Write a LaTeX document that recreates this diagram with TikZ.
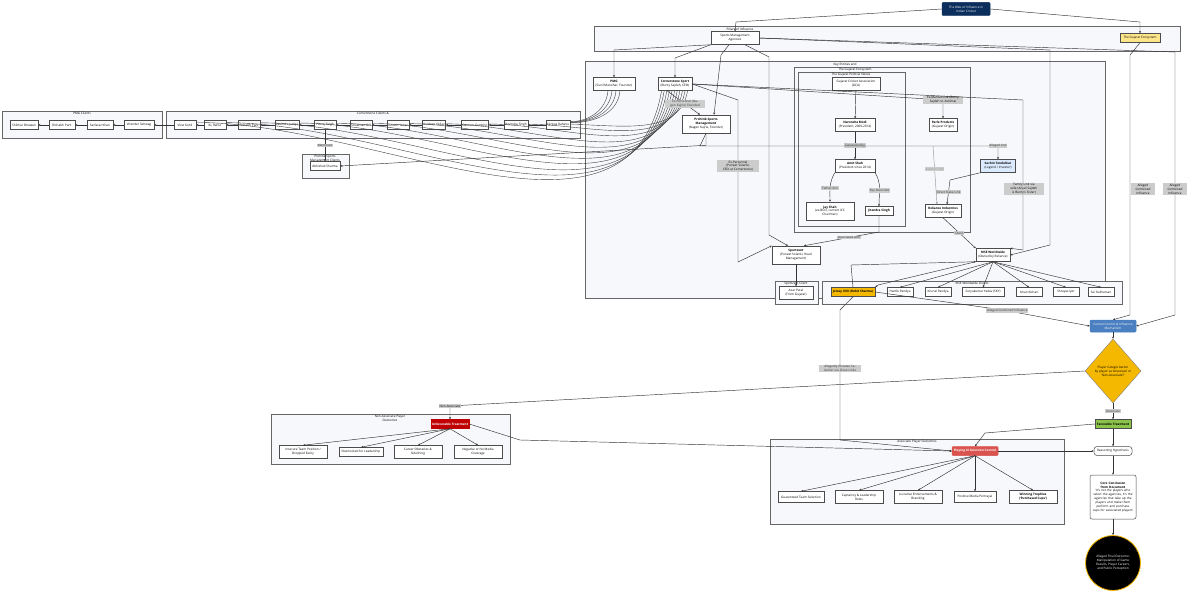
\documentclass[tikz,border=0pt]{standalone}
\usepackage{fontspec}
\setmainfont{Open Sans}
\usetikzlibrary{shapes.geometric,arrows.meta,positioning}
\definecolor{navy}{HTML}{0B2E5C}
\definecolor{gold}{HTML}{F5B800}
\definecolor{lyel}{HTML}{FDE68A}
\definecolor{lblue}{HTML}{DBEAFE}
\definecolor{mblue}{HTML}{4A7FC1}
\definecolor{dred}{HTML}{C00000}
\definecolor{mred}{HTML}{D9534F}
\definecolor{lgreen}{HTML}{8BC34A}
\definecolor{cont}{HTML}{F7F8FB}
\begin{document}
\begin{tikzpicture}[x=1pt,y=-1pt,
  every node/.style={font=\fontsize{3.1}{3.9}\selectfont,inner sep=1pt},
  box/.style={draw=black!70,fill=white,line width=0.5pt,align=center,minimum height=9pt},
  ctr/.style={draw=black!60,fill=cont,line width=0.5pt},
  ttl/.style={font=\fontsize{3.1}{3.7}\selectfont,anchor=north},
  lbl/.style={fill=black!20,align=center,inner sep=0.8pt},
  arr/.style={-{Stealth[length=2.2pt,width=2pt]},black!80,line width=0.45pt}]
\useasboundingbox (0,0) rectangle (1200,594);
% containers
\draw[ctr] (594,26) rectangle (1180,51); \node[ttl] at (740,26.5) {Pillars of Influence};
\draw[ctr] (585,61) rectangle (1105,298); \node[ttl] at (845,61.5) {Key Entities and};
\draw[ctr] (794,67) rectangle (970,232); \node[ttl] at (855,67) {The Gujarat Ecosystem};
\draw[ctr] (798,72) rectangle (905,226); \node[ttl] at (851,72) {The Gujarat Political Nexus};
\draw[ctr] (2,111) rectangle (162,138); \node[ttl] at (82,111) {PMG Clients};
\draw[ctr] (166,111) rectangle (580,138); \node[ttl] at (373,111) {Cornerstone Clients \&};
\draw[ctr] (302,154) rectangle (349,178); \node[ttl,align=center] at (325,154) {Prohitik Sports\\Management Clients};
\draw[ctr] (775,281) rectangle (818,304); \node[ttl] at (796,281) {Sportzent Client};
\draw[ctr] (822,281) rectangle (1122,304); \node[ttl] at (972,281) {RISE Worldwide Clients};
\draw[ctr] (271,414) rectangle (510,464); \node[ttl,align=center] at (390,414) {Non-Associate Player\\Outcomes};
\draw[ctr] (770,439) rectangle (1064,524); \node[ttl] at (917,439) {Associate Player Outcomes};
% nodes
\node[box,fill=navy,draw=navy,text=white,rounded corners=1pt,minimum width=48pt,minimum height=13pt] (top) at (966,9) {The Web of Influence in\\Indian Cricket};
\node[box,minimum width=48pt,minimum height=13pt] (sma) at (735,38) {Sports Management\\Agencies};
\node[box,fill=lyel,minimum width=40pt] (geco) at (1140,38) {The Gujarat Ecosystem};
\node[box,minimum width=48pt,minimum height=13pt] (gca) at (856,84) {Gujarat Cricket Association\\(GCA)};
\node[box,minimum width=40pt,minimum height=13pt] (modi) at (855,125) {\textbf{Narendra Modi}\\(President, 2009-2014)};
\node[box,minimum width=40pt,minimum height=13pt] (amit) at (855,166) {\textbf{Amit Shah}\\(President since 2014)};
\node[box,minimum width=48pt,minimum height=18pt] (jay) at (830,211) {\textbf{Jay Shah}\\(ex-BCCI, current ICC\\Chairman)};
\node[box,minimum width=28pt] (jit) at (879,211) {\textbf{Jitendra Singh}};
\node[box,minimum width=28pt,minimum height=13pt] (parle) at (943,125) {\textbf{Parle Products}\\(Gujarat Origin)};
\node[box,fill=lblue,minimum width=35pt,minimum height=13pt] (sachin) at (998,166) {\textbf{Sachin Tendulkar}\\(Legend / Investor)};
\node[box,minimum width=36pt,minimum height=13pt] (rel) at (943,211) {\textbf{Reliance Industries}\\(Gujarat Origin)};
\node[box,minimum width=42pt,minimum height=13pt] (pmg) at (614,84) {\textbf{PMG}\\(Sunil Manohar, Founder)};
\node[box,minimum width=34pt,minimum height=13pt] (cs) at (675,84) {\textbf{Cornerstone Sport}\\(Bunty Sajdeh, CEO)};
\node[box,minimum width=48pt,minimum height=18pt] (pro) at (706,124) {\textbf{Prohitik Sports}\\\textbf{Management}\\(Nagen Kajrie, Founder)};
\node[box,minimum width=48pt,minimum height=18pt] (spz) at (796,255) {\textbf{Sportzent}\\(Puneet Solanki, Head\\Management)};
\node[box,minimum width=34pt,minimum height=13pt] (rise) at (993,255) {\textbf{RISE Worldwide}\\(Owned by Reliance)};
% PMG clients
\node[box,minimum width=28pt] (p1) at (24,125) {Shikhar Dhawan};
\node[box,minimum width=26pt] (p2) at (62,125) {Rishabh Pant};
\node[box,minimum width=26pt] (p3) at (100,125) {Sarfaraz Khan};
\node[box,minimum width=30pt] (p4) at (139,125) {Virender Sehwag};
\draw[arr] (p2) -- (p1); \draw[arr] (p3) -- (p2); \draw[arr] (p4) -- (p3);
% Cornerstone clients
\foreach \n/\x/\t in {c1/185/Virat Kohli,c2/215/KL Rahul,c3/249/Rishabh Pant,c4/287/Ravindra Jadeja,c5/325/Yuvraj Singh,c6/361/Shubman Gill,c7/398/Umesh Yadav,c8/434/Kuldeep Yadav,c9/475/Gautam Gambhir,c10/516/Ravindra Singh,c11/558/Ajinkya Rahane}
  {\node[box,minimum width=22pt] (\n) at (\x,125) {\t};}
\foreach \a/\b in {c2/c1,c3/c2,c4/c3,c5/c4,c6/c5,c7/c6,c8/c7,c9/c8,c10/c9,c11/c10,c1/p4} {\draw[arr] (\a) -- (\b);}
\foreach \n/\k in {c1/1,c2/2,c3/3,c4/4,c5/5,c6/6,c7/7,c8/8,c9/9,c10/10,c11/11}
  {\draw[black!75,line width=0.4pt] ([xshift={-16+2.6*\k}]cs.south) to[out=-100,in=0] ([yshift={-2-0.2*\k}]\n.north east);}
\foreach \k in {1,2,3,4} {\draw[black!75,line width=0.4pt] ([xshift={-10+4*\k}]pmg.south) to[out=-95,in=0] ([yshift={-1-0.4*\k}]c11.north east);}
\node[box,minimum width=30pt] (abh) at (325,166) {Abhishek Sharma};
\draw[arr] (c5) -- node[lbl]{Mentored} (abh);
\draw[arr] (pro.south) |- ([yshift=-12]pro.south) -- (abh.east);
% RISE clients
\node[box,fill=gold,minimum width=44pt] (jb) at (853,292) {\textbf{Jersey XVII (Rohit Sharma)}};
\node[box,minimum width=26pt] (r1) at (900,292) {Hardik Pandya};
\node[box,minimum width=26pt] (r2) at (938,292) {Krunal Pandya};
\node[box,minimum width=42pt] (r3) at (983,292) {Suryakumar Yadav (SKY)};
\node[box,minimum width=26pt] (r4) at (1029,292) {Ishan Kishan};
\node[box,minimum width=26pt] (r5) at (1066,292) {Shreyas Iyer};
\node[box,minimum width=26pt] (r6) at (1101,292) {Sai Sudharsan};
\node[box,minimum width=34pt,minimum height=13pt] (axar) at (796,293) {Axar Patel\\(From Gujarat)};
% flow right
\node[box,fill=mblue,draw=mblue,text=white,rounded corners=1pt,minimum width=46pt,minimum height=12pt] (cen) at (1113,326) {Central Control \& Influence\\Mechanism};
\node[diamond,draw=black!50,fill=gold,minimum width=56pt,minimum height=64pt,align=center,inner sep=0pt] (dia) at (1113,371) {Player Categorization\\by player as `Associate' or\\`Non-Associate'?};
\node[box,fill=lgreen,minimum width=36pt] (fav) at (1113,424) {\textbf{Favorable Treatment}};
\node[box,rounded corners=3pt,minimum width=38pt] (rea) at (1113,451) {Reasoning Hypothesis};
\node[box,rounded corners=2pt,text width=44pt,minimum height=44pt] (core) at (1113,497) {\textbf{Core Conclusion from Document}\\`It's not the players who select the agencies, it's the agencies that take up the players and make them perform and purchase cups for associated players'};
\node[circle,draw=gold,line width=0.8pt,fill=black,text=white,minimum size=55pt,align=center,inner sep=0pt] (fin) at (1113,563) {Alleged Final Outcome:\\Manipulation of Game\\Results, Player Careers,\\and Public Perception};
\node[box,fill=dred,draw=dred,text=white,minimum width=38pt] (unf) at (450,424) {\textbf{Unfavorable Treatment}};
\node[box,minimum width=48pt,minimum height=13pt] (n1) at (303,452) {Insecure Team Position /\\Dropped Easily};
\node[box,minimum width=44pt] (n2) at (361,452) {Overlooked for Leadership};
\node[box,minimum width=48pt,minimum height=13pt] (n3) at (418,452) {Career Obstacles \&\\Sidelining};
\node[box,minimum width=48pt,minimum height=13pt] (n4) at (478,452) {Negative or No Media\\Coverage};
\node[box,fill=mred,draw=mred,text=white,rounded corners=1pt,minimum width=46pt] (pl) at (975,451) {\textbf{Playing XI Selection Control}};
\node[box,minimum width=46pt,minimum height=11pt] (a1) at (801,497) {Guaranteed Team Selection};
\node[box,minimum width=48pt,minimum height=13pt] (a2) at (859,497) {Captaincy \& Leadership\\Roles};
\node[box,minimum width=48pt,minimum height=13pt] (a3) at (918,497) {Lucrative Endorsements \&\\Branding};
\node[box,minimum width=42pt,minimum height=11pt] (a4) at (975,497) {Positive Media Portrayal};
\node[box,minimum width=48pt,minimum height=13pt] (a5) at (1033,497) {\textbf{Winning Trophies}\\\textbf{(`Purchased Cups')}};
% connectors
\draw[arr] (top.west) -- (736,22) -- (sma.north);
\draw[arr] (top.east) -- (1140,22) -- (geco.north);
\draw[arr] (sma.south west) -- (614,50) -- (pmg.north);
\draw[arr] (sma.south west) -- (675,58) -- (cs.north);
\draw[arr] ([xshift=-6]sma.south) -- (721,55) -- ([xshift=8]pro.north);
\draw[arr] ([xshift=10]sma.south) -- (769,57) -- (769,235) -- ([xshift=-8]spz.north);
\draw[arr] (sma.east) -- (1050,50) -- (1050,245) -- (rise.east);
\draw[arr] (sma.east) -- (1175,52) -- (1175,315) -- (cen.east);
\draw[arr] (geco.south) -- (1130,55) -- (1130,315) -- (cen.north);
\node[lbl,text width=22pt] at (1143,189) {Alleged Combined Influence};
\node[lbl,text width=22pt] at (1175,189) {Alleged Combined Influence};
\draw[arr] ([xshift=-8]cs.south) -- node[lbl,pos=0.55,text width=38pt]{Ex-Personnel (Nagen Kajrie) Founded} ([xshift=-6]pro.north);
\draw[arr] (cs.east) -- (943,100) -- (parle.north);
\node[lbl,text width=38pt] at (943,100) {Ex-Marital Link (Bunty Sajdeh to Ashima)};
\draw[arr] (cs.east) -- (1023,100) -- (1023,250) -- (rise.north east);
\node[lbl,text width=38pt] at (1024,189) {Family Link via wife (Anjali Sajdeh is Bunty's Sister)};
\draw[arr] (cs.east) -- (738,100) -- (738,262) -- (spz.north west);
\node[lbl,text width=40pt] at (738,166) {Ex-Personnel (Puneet Solanki, CEO at Cornerstone)};
\draw[arr] (gca) -- (modi);
\draw[arr] (modi) -- node[lbl]{Succeeded by} (amit);
\draw[arr] (amit.south west) to[out=-120,in=90] node[lbl,pos=0.55]{Father-Son} (jay.north);
\draw[arr] (amit.south east) to[out=-60,in=90] node[lbl,pos=0.55]{Key Associate} (jit.north);
\draw[arr] (jit.south) -- (879,232) -- node[lbl,pos=0.4]{Associated with} ([xshift=8]spz.north);
\draw[arr] (sachin.south west) -- (950,180) -- node[lbl]{Direct Stake Link} ([xshift=4]rel.north);
\draw[arr] (pro.south) -- (700,146) -- (998,146) -- node[lbl,pos=0]{Alleged Link} (sachin.north);
\draw[arr,black!40] (933,146) -- node[lbl,pos=0.4]{Indirect Link} ([xshift=-6]rel.north);
\draw[arr] (rel.south) -- node[lbl,pos=0.5]{Owns} (rise.north west);
\draw[arr] (spz) -- (axar);
\foreach \n in {r1,r2,r3,r4,r5,r6} {\draw[arr] (rise.south) -- (\n.north);}
\draw[arr] (rise.south west) -- (878,285) -- (jb.north east);
\draw[arr] (jb.east) -- (1003,310) -- node[lbl,pos=0.05]{Alleged Combined Influence} (cen.west);
\draw[arr] (jb.south) -- (840,310) -- node[lbl,pos=0.45,text width=40pt]{Allegedly Dictates Selection via Close Links} (840,440) -- (pl.west);
\draw[arr] (jb.north) -- (851,265) -- (rise.south west);
\draw[arr] (cen) -- (dia);
\draw[arr] (dia) -- node[lbl]{Associate} (fav);
\draw[arr] (dia.west) -- (450,406) -- (unf.north);
\node[lbl] at (450,406) {Non-Associate};
\draw[arr] (fav.west) -- (985,433) -- (pl.north);
\draw[arr] (unf.east) -- (520,440) -- (pl.west);
\draw[arr] (pl.east) -- (rea.west);
\draw[arr] (fav) -- (rea);
\draw[arr] (rea) -- (core);
\draw[arr] (core) -- (fin);
\foreach \n in {n1,n2,n3,n4} {\draw[arr] (unf.south) -- (\n.north);}
\foreach \n in {a1,a2,a3,a4,a5} {\draw[arr] (pl.south) -- (\n.north);}
\end{tikzpicture}
\end{document}
